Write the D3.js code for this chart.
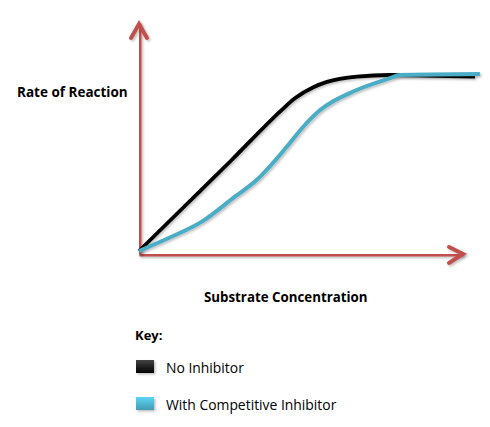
<!DOCTYPE html>
<html><head><meta charset="utf-8">
<script src="https://cdn.jsdelivr.net/npm/d3@7"></script>
<style>body{margin:0;background:#fff}svg{display:block}text{font-family:"Open Sans","Liberation Sans",sans-serif}</style>
</head><body>
<svg id="c" width="490" height="427"></svg>
<script>
// Data (arbitrary units, 0-100 scale)
const noInhibitorX = [0, 14.3, 28.6, 44.0, 48.0, 53.8, 58.0, 67.2, 77.5, 103.7];
const noInhibitorY = [1.3, 21.0, 40.7, 62.3, 67.3, 72.2, 74.5, 76.8, 77.5, 76.8];
const competitiveX = [0, 9.0, 19.4, 29.6, 36.3, 45.6, 50.7, 55.9, 67.2, 77.5, 80.6, 105.2];
const competitiveY = [1.3, 6.8, 14.0, 24.8, 32.0, 46.4, 55.1, 62.3, 71.0, 76.1, 77.5, 77.9];
const seriesNames = ["No Inhibitor", "With Competitive Inhibitor"];
const seriesColors = ["#000000", "#4bacc6"];
const xLabel = "Substrate Concentration";
const yLabel = "Rate of Reaction";
const keyTitle = "Key:";

const svg = d3.select("#c");
const x = d3.scaleLinear().domain([0, 100]).range([139, 463]);
const y = d3.scaleLinear().domain([0, 100]).range([254, 23]);

const defs = svg.append("defs");
const f = defs.append("filter").attr("id","sh").attr("filterUnits","userSpaceOnUse")
  .attr("x",0).attr("y",0).attr("width",490).attr("height",427);
f.append("feDropShadow").attr("dx",1.5).attr("dy",1.5).attr("stdDeviation",1).attr("flood-color","#000").attr("flood-opacity",0.25);

const axisColor = "#c0504d";
const gx = svg.append("g").attr("transform",`translate(0,${y(0)})`)
  .call(d3.axisBottom(x).ticks(0).tickSizeOuter(0));
const gy = svg.append("g").attr("transform",`translate(${x(0)},0)`)
  .call(d3.axisLeft(y).ticks(0).tickSizeOuter(0));
[gx, gy].forEach(g => g.select(".domain").attr("stroke", axisColor).attr("stroke-width", 4)
  .attr("stroke-linecap","butt").attr("filter","url(#sh)"));

const ah = svg.append("g").attr("fill","none").attr("stroke",axisColor).attr("stroke-width",4)
  .attr("stroke-linecap","round").attr("stroke-linejoin","miter").attr("filter","url(#sh)");
ah.append("path").attr("d", `M${x(0)-8},${y(100)+15}L${x(0)},${y(100)+1}L${x(0)+8},${y(100)+15}`);
ah.append("path").attr("d", `M${x(100)-14},${y(0)-7}L${x(100)},${y(0)}L${x(100)-14},${y(0)+9}`);

const line = d3.line().x(d=>x(d[0])).y(d=>y(d[1])).curve(d3.curveMonotoneX);
const s1 = noInhibitorX.map((v,i)=>[v, noInhibitorY[i]]);
const s2 = competitiveX.map((v,i)=>[v, competitiveY[i]]);
svg.append("path").attr("d", line(s1)).attr("fill","none").attr("stroke",seriesColors[0]).attr("stroke-width",3.8).attr("filter","url(#sh)");
svg.append("path").attr("d", line(s2)).attr("fill","none").attr("stroke",seriesColors[1]).attr("stroke-width",4).attr("filter","url(#sh)");

svg.append("text").attr("x",17).attr("y",97).attr("font-size",13.5).attr("font-weight","bold").text(yLabel);
svg.append("text").attr("x",204).attr("y",302).attr("font-size",13.3).attr("font-weight","bold").text(xLabel);
svg.append("text").attr("x",135).attr("y",340).attr("font-size",13).attr("font-weight","bold").text(keyTitle);

const lg = svg.append("g");
seriesNames.forEach((n,i)=>{
  const yy = 360 + i*37;
  const grad = defs.append("linearGradient").attr("id","g"+i).attr("x1",0).attr("y1",0).attr("x2",0).attr("y2",1);
  const c = d3.color(seriesColors[i]);
  grad.append("stop").attr("offset","0%").attr("stop-color", i===0 ? "#444" : d3.color(c).brighter(0.6));
  grad.append("stop").attr("offset","100%").attr("stop-color", i===0 ? "#000" : d3.color(c).darker(0.3));
  lg.append("rect").attr("x",136).attr("y",yy).attr("width",18).attr("height",13)
    .attr("fill","url(#g"+i+")").attr("filter","url(#sh)");
  lg.append("text").attr("x",166).attr("y",yy+13).attr("font-size",13.9).text(n);
});
</script>
</body></html>
